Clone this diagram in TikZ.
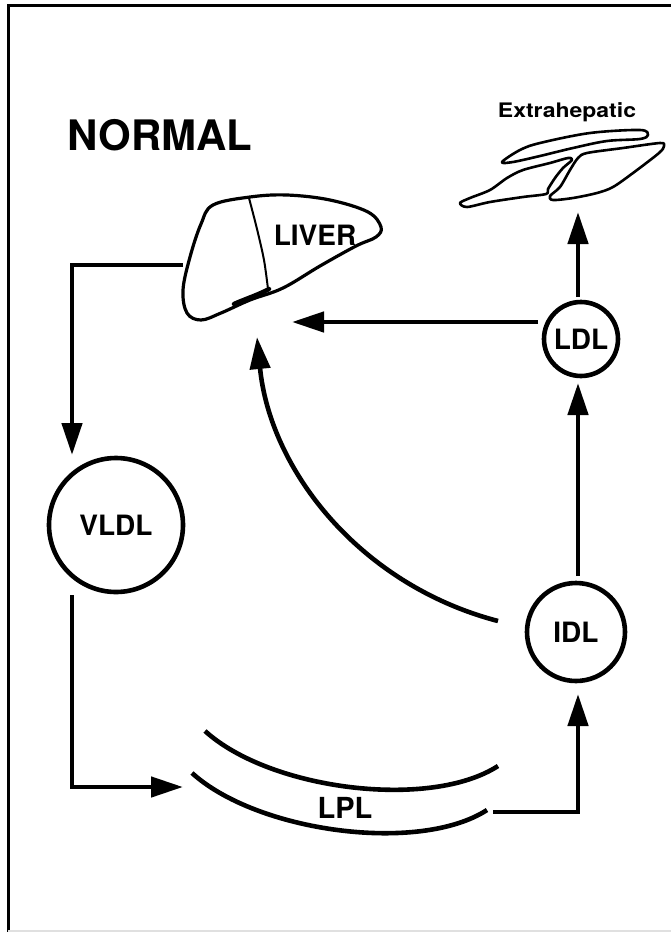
\documentclass[tikz,border=0pt]{standalone}
\usepackage{fontspec}
\setmainfont{TeX Gyre Heros}
\usetikzlibrary{arrows.meta}
\begin{document}
\begin{tikzpicture}[x=1pt,y=-1pt,
  conn/.style={line width=4.6pt,-{Triangle[length=32pt,width=20pt]}},
  plain/.style={line width=4.6pt},
  pool/.style={circle,draw,line width=4.6pt,inner sep=0pt,font=\bfseries\fontsize{28}{28}\selectfont},
  organ/.style={line width=3.2pt,line join=round},
  tissue/.style={line width=2.6pt,line join=round},
  lbl/.style={inner sep=0pt,font=\bfseries}]
\useasboundingbox (0,0) rectangle (671,932);
% frame
\fill[white] (0,0) rectangle (671,932);
\draw[line width=3pt] (8,932) -- (8,5) -- (671,5);
\draw[line width=1.5pt,black!12] (8,931) -- (671,931);

% titles
\node[lbl,font=\bfseries\fontsize{42}{42}\selectfont] (title) at (160,135) {NORMAL};
\node[lbl] (extralbl) at (567,112) {\scalebox{1.15}[1]{\fontsize{20}{20}\selectfont Extrahepatic}};

% liver
\draw[organ] plot[smooth cycle,tension=0.6] coordinates {
  (213,205) (250,197) (287,195) (330,200) (368,212) (381,227) (376,237)
  (356,246) (320,266) (283,288) (250,300) (221,313) (201,320) (187,313)
  (183,290) (190,257) (201,224)};
\draw[line width=2pt] plot[smooth] coordinates {(249,198) (257,229) (264,260) (268,289)};
\draw[line width=4.5pt,line cap=round] (269,289) .. controls (258,295) and (245,299) .. (234,304);
\node[lbl,font=\bfseries\fontsize{28}{28}\selectfont] (liver) at (315,235) {LIVER};

% extrahepatic tissue
\draw[tissue] plot[smooth cycle,tension=0.55] coordinates {
  (502,162) (520,150) (540,143) (590,133) (640,130) (648,135) (640,139)
  (607,141) (573,148) (540,156) (513,162)};
\draw[tissue] plot[smooth cycle,tension=0.5] coordinates {
  (460,203) (470,198) (490,190) (507,178) (523,170) (550,163) (568,158)
  (572,160) (563,168) (555,178) (548,189) (546,194) (523,197) (490,202) (467,207)};
\draw[tissue] plot[smooth cycle,tension=0.5] coordinates {
  (587,153) (623,148) (660,143) (664,146) (659,153) (633,173) (613,187)
  (597,193) (573,198) (553,200) (550,196) (560,187) (570,170) (578,158)};

% lipoprotein pools
\node[pool,minimum size=134pt] (vldl) at (116,525) {VLDL};
\node[pool,minimum size=98pt] (idl) at (576,632) {IDL};
\node[pool,minimum size=74pt] (ldl) at (581,339) {LDL};

% lipoprotein lipase
\draw[plain] (205,731) .. controls (270,790) and (430,810) .. (498,766);
\draw[plain] (192,773) .. controls (257,832) and (419,854) .. (487,810);
\node[lbl,font=\bfseries\fontsize{29}{29}\selectfont] (lpl) at (345,808) {LPL};

% connector ends
\coordinate (liverOut) at (183,265);
\coordinate (vldlIn) at (72,455);
\coordinate (vldlOut) at (72,595);
\coordinate (lplIn) at (183,787);
\coordinate (lplOut) at (493,812);
\coordinate (idlIn) at (578,694);
\coordinate (idlTop) at (578,576);
\coordinate (ldlIn) at (578,383);
\coordinate (ldlTop) at (578,297);
\coordinate (extraIn) at (578,212);
\coordinate (ldlLeft) at (538,322);
\coordinate (liverIn) at (292,322);
\coordinate (idlLeft) at (498,621);
\coordinate (liverIn2) at (257,337);

% fluxes
\draw[conn] (liverOut) -| (vldlIn);
\draw[conn] (vldlOut) |- (lplIn);
\draw[conn] (lplOut) -| (idlIn);
\draw[conn] (idlTop) -- (ldlIn);
\draw[conn] (ldlTop) -- (extraIn);
\draw[conn] (ldlLeft) -- (liverIn);
\draw[conn] (idlLeft) .. controls (360,585) and (270,470) .. (liverIn2);
\end{tikzpicture}
\end{document}
